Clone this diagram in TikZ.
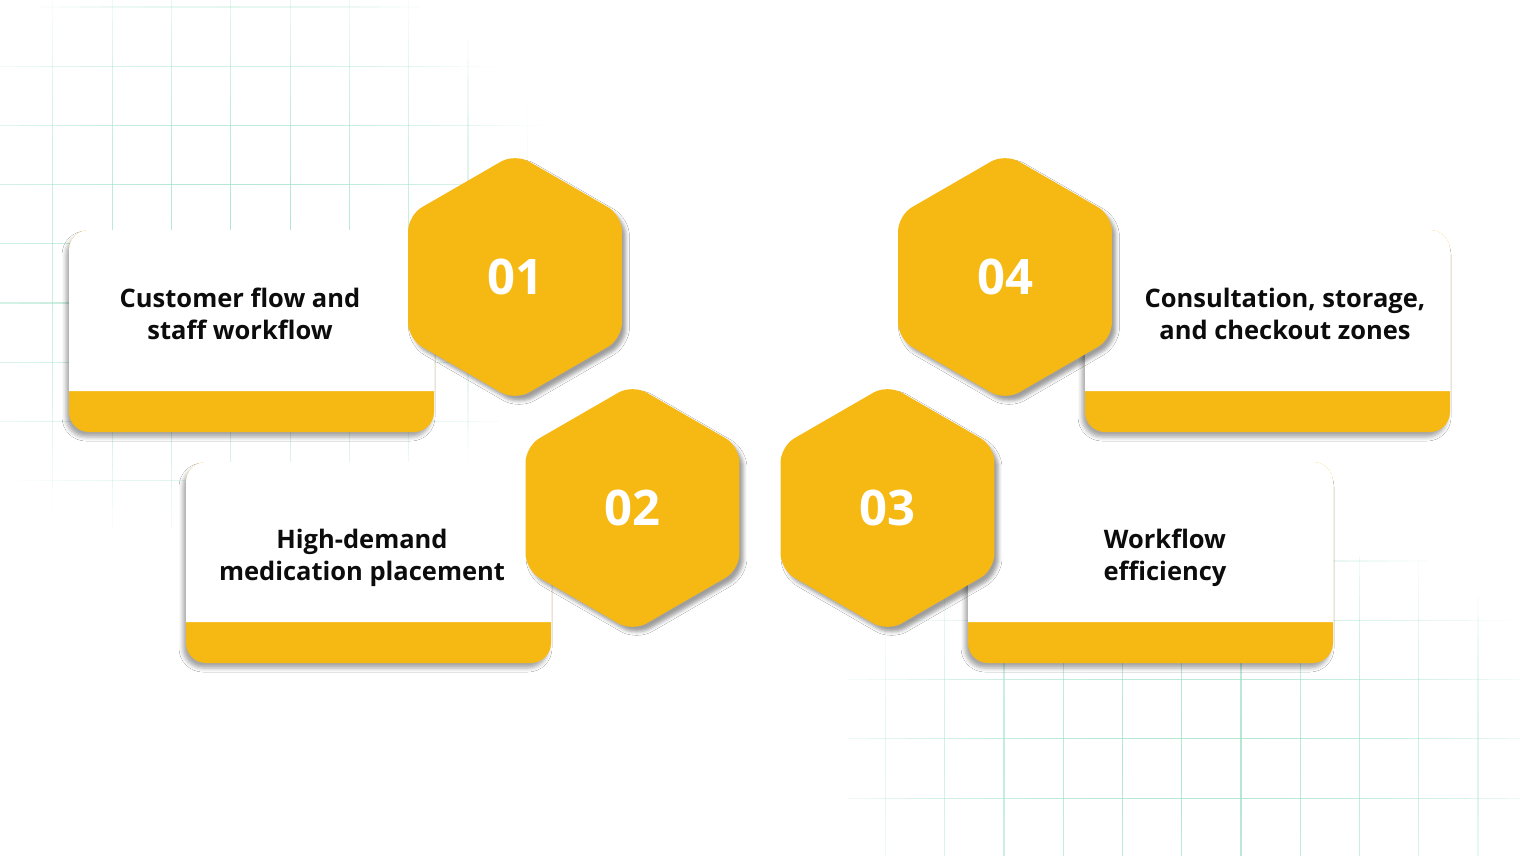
\documentclass[tikz,border=0pt]{standalone}
\usepackage{fontspec}
\setmainfont{Open Sans}
\usetikzlibrary{shapes.geometric,shadows.blur}
\definecolor{hexyellow}{RGB}{246,185,20}
\definecolor{gridgreen}{RGB}{160,226,200}
\definecolor{ink}{RGB}{12,12,12}
\tikzset{
  gridline/.style={gridgreen, line width=1.1pt},
  cardshadow/.style={blur shadow={shadow xshift=-3pt, shadow yshift=-5pt, shadow blur radius=4pt, shadow opacity=35}},
  hexnode/.style={regular polygon, regular polygon sides=6, shape border rotate=30,
    minimum size=247pt, inner sep=0pt, fill=hexyellow, rounded corners=16pt,
    text=white, font=\fontsize{49}{49}\selectfont\bfseries,
    blur shadow={shadow xshift=4pt, shadow yshift=-5pt, shadow blur radius=3.5pt, shadow opacity=38}},
  cardtext/.style={text=ink, align=center, font=\fontsize{25.5}{32}\selectfont\bfseries}
}
\newcommand\mycard[5]{% x1,y1,x2,y2,strip top
  \fill[hexyellow, rounded corners=20pt, cardshadow] (#1,#2) rectangle (#3,#4);
  \fill[white] (#1,#5) [rounded corners=20pt] -- (#1,#2) -- (#3,#2) [sharp corners] -- (#3,#5) -- cycle;
}
\begin{document}
\begin{tikzpicture}[x=1pt,y=-1pt]
\useasboundingbox (0,0) rectangle (1520,856);
\fill[white] (0,0) rectangle (1520,856);
% top-left grid
\foreach \i in {0,...,8}{
  \pgfmathsetmacro\xx{52.9+59.3*\i}
  \foreach \s in {0,...,26}{
    \pgfmathsetmacro\ya{\s*19.52}
    \pgfmathsetmacro\yb{\ya+19.52}
    \pgfmathsetmacro\dx{(\xx-230)/340}
    \pgfmathsetmacro\dy{(\ya+9.76-250)/300}
    \pgfmathsetmacro\al{max(0,min(1,1-\dx*\dx-\dy*\dy))*0.8}
    \draw[gridline, opacity=\al] (\xx,\ya) -- (\xx,\yb);
  }
}
\foreach \j in {0,...,8}{
  \pgfmathsetmacro\yy{7+59.2*\j}
  \foreach \s in {0,...,27}{
    \pgfmathsetmacro\xa{\s*20}
    \pgfmathsetmacro\xb{\xa+20}
    \pgfmathsetmacro\dx{(\xa+10-230)/340}
    \pgfmathsetmacro\dy{(\yy-250)/300}
    \pgfmathsetmacro\al{max(0,min(1,1-\dx*\dx-\dy*\dy))*0.8}
    \draw[gridline, opacity=\al] (\xa,\yy) -- (\xb,\yy);
  }
}
% bottom-right grid
\foreach \i in {0,...,10}{
  \pgfmathsetmacro\xx{885.5+59.25*\i}
  \foreach \s in {0,...,14}{
    \pgfmathsetmacro\ya{557+\s*20}
    \pgfmathsetmacro\yb{\ya+20}
    \pgfmathsetmacro\dx{(\xx-1190)/380}
    \pgfmathsetmacro\dy{(\ya+10-760)/260}
    \pgfmathsetmacro\al{max(0,min(1,1-\dx*\dx-\dy*\dy))*0.8}
    \draw[gridline, opacity=\al] (\xx,\ya) -- (\xx,\yb);
  }
}
\foreach \j in {0,...,4}{
  \pgfmathsetmacro\yy{561+59.3*\j}
  \foreach \s in {0,...,33}{
    \pgfmathsetmacro\xa{848+\s*20}
    \pgfmathsetmacro\xb{\xa+20}
    \pgfmathsetmacro\dx{(\xa+10-1190)/380}
    \pgfmathsetmacro\dy{(\yy-760)/260}
    \pgfmathsetmacro\al{max(0,min(1,1-\dx*\dx-\dy*\dy))*0.8}
    \draw[gridline, opacity=\al] (\xa,\yy) -- (\xb,\yy);
  }
}
% cards
\mycard{69}{230}{434}{432}{391}
\mycard{186}{462}{551}{663}{622}
\mycard{968}{462}{1333}{663}{622}
\mycard{1085}{230}{1450}{432}{391}
\node[cardtext] (t1) at (240,314) {Customer flow and\\staff workflow};
\node[cardtext] (t2) at (362,558) {High-demand\\medication placement};
\node[cardtext] (t3) at (1165,558) {Workflow\\efficiency};
\node[cardtext] (t4) at (1285,314) {Consultation, storage,\\and checkout zones};
% hexagons
\node[hexnode] (h1) at (515,277) {01};
\node[hexnode] (h2) at (632.5,508) {02};
\node[hexnode] (h3) at (887.5,508) {03};
\node[hexnode] (h4) at (1005,277) {04};
\end{tikzpicture}
\end{document}
